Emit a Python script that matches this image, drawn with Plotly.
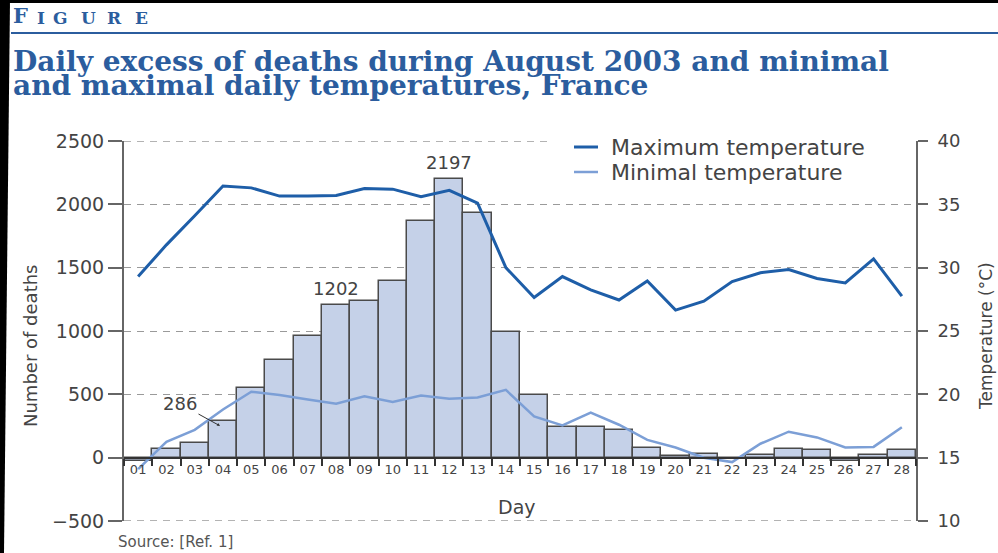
import plotly.graph_objects as go

# ---------------- data ----------------
days = ["01", "02", "03", "04", "05", "06", "07", "08", "09", "10", "11", "12", "13", "14",
        "15", "16", "17", "18", "19", "20", "21", "22", "23", "24", "25", "26", "27", "28"]
excess_deaths = [-25, 65, 115, 286, 550, 775, 960, 1202, 1235, 1395, 1865, 2197, 1935, 995,
                 495, 245, 245, 220, 80, 10, 30, -10, 25, 65, 60, -30, 25, 60]
t_max = [29.3, 31.8, 34.1, 36.45, 36.3, 35.65, 35.65, 35.7, 36.25, 36.2, 35.6, 36.1, 35.1, 30.0,
         27.65, 29.3, 28.25, 27.45, 28.95, 26.65, 27.35, 28.9, 29.6, 29.85, 29.15, 28.8, 30.7, 27.75]
t_min = [14.1, 16.25, 17.2, 18.8, 20.2, 19.95, 19.6, 19.25, 19.85, 19.4, 19.9, 19.65, 19.75, 20.35,
         18.25, 17.55, 18.55, 17.6, 16.4, 15.8, 15.0, 14.65, 16.1, 17.05, 16.6, 15.8, 15.85, 17.4]
series_names = ["Maximum temperature", "Minimal temperature"]
labelled_days = ["08", "12"]
arrow_day = "04"
left_ticks = [-500, 0, 500, 1000, 1500, 2000, 2500]
right_ticks = [10, 15, 20, 25, 30, 35, 40]

# ---------------- layout helpers (pixel -> paper) ----------------
W, H = 998, 553
L, R, T, B = 124, 916, 141, 521


def PX(x):
    return (x - L) / (R - L)


def PY(y):
    return (B - y) / (B - T)


BLUE_HDR = "#2b5d9e"
TXT = "#444444"
FONT = "DejaVu Sans"
COL_MAX, W_MAX = "#1e5ea8", 3
COL_MIN, W_MIN = "#7c9fd6", 2.5
GRID = "#9a9a9a"
GRID_DASH = "7px,6px"

fig = go.Figure()

fig.add_trace(go.Bar(
    x=days, y=excess_deaths, yaxis="y", xaxis="x",
    marker=dict(color="#c5d1e8", line=dict(color="#4a4a4a", width=1.5)),
    showlegend=False, hoverinfo="x+y",
))
fig.add_trace(go.Scatter(
    x=days, y=t_max, yaxis="y2", mode="lines", name=series_names[0],
    line=dict(color=COL_MAX, width=W_MAX), showlegend=False,
))
fig.add_trace(go.Scatter(
    x=days, y=t_min, yaxis="y2", mode="lines", name=series_names[1],
    line=dict(color=COL_MIN, width=W_MIN), showlegend=False,
))

annotations = []
# value labels (category index used as x position)
for d in labelled_days:
    i = days.index(d)
    annotations.append(dict(x=i, y=excess_deaths[i], xref="x", yref="y", text=str(excess_deaths[i]),
                            showarrow=False, yanchor="bottom", yshift=4,
                            font=dict(family=FONT, size=18, color=TXT)))
ia = days.index(arrow_day)
annotations.append(dict(x=ia, y=excess_deaths[ia] - 35, xref="x", yref="y", text=str(excess_deaths[ia]),
                        showarrow=True, arrowhead=2, arrowsize=0.6, arrowwidth=1, arrowcolor="#333",
                        ax=-40, ay=-22, xshift=-3,
                        font=dict(family=FONT, size=18, color=TXT)))

# legend (drawn by hand for exact spacing)
shapes = []
for (name, col, wd, yy) in [(series_names[0], COL_MAX, W_MAX, 147), (series_names[1], COL_MIN, W_MIN, 172)]:
    shapes.append(dict(type="line", xref="paper", yref="paper", x0=PX(574), x1=PX(598), y0=PY(yy), y1=PY(yy),
                       line=dict(color=col, width=wd)))
    annotations.append(dict(x=PX(609), y=PY(yy), xref="paper", yref="paper", text=name,
                            showarrow=False, xanchor="left", yanchor="middle",
                            font=dict(family=FONT, size=22, color=TXT)))

# header
header_letters = [("F", 21, 20.5), ("I", 17, 40.5), ("G", 17, 60.5), ("U", 17, 88.5), ("R", 17, 114.5), ("E", 17, 141.5)]
for ch, sz, cx in header_letters:
    annotations.append(dict(x=PX(cx), y=PY(30), xref="paper", yref="paper", text="<b>%s</b>" % ch,
                            showarrow=False, xanchor="center", yanchor="bottom",
                            font=dict(family="DejaVu Serif", size=sz, color=BLUE_HDR)))
annotations.append(dict(x=PX(11), y=PY(62), xref="paper", yref="paper",
                        text="<b>Daily excess of deaths during August 2003 and minimal</b>",
                        showarrow=False, xanchor="left", yanchor="middle",
                        font=dict(family="DejaVu Serif", size=28, color=BLUE_HDR)))
annotations.append(dict(x=PX(11), y=PY(85), xref="paper", yref="paper",
                        text="<b>and maximal daily temperatures, France</b>",
                        showarrow=False, xanchor="left", yanchor="middle",
                        font=dict(family="DejaVu Serif", size=28, color=BLUE_HDR)))
# axis titles
annotations.append(dict(x=PX(30), y=PY(346), xref="paper", yref="paper", text="Number of deaths",
                        textangle=-90, showarrow=False, xanchor="center", yanchor="middle",
                        font=dict(family=FONT, size=18, color=TXT)))
annotations.append(dict(x=PX(986), y=PY(336), xref="paper", yref="paper", text="Temperature (°C)",
                        textangle=-90, showarrow=False, xanchor="center", yanchor="middle",
                        font=dict(family=FONT, size=17, color=TXT)))
annotations.append(dict(x=PX(517), y=PY(507), xref="paper", yref="paper", text="Day",
                        showarrow=False, xanchor="center", yanchor="middle",
                        font=dict(family=FONT, size=19, color=TXT)))
annotations.append(dict(x=PX(116), y=PY(542), xref="paper", yref="paper", text="Source: [Ref. 1]",
                        showarrow=False, xanchor="left", yanchor="middle",
                        font=dict(family=FONT, size=15, color="#555")))

shapes += [
    # edge gridlines that plotly omits at the range ends
    dict(type="line", xref="paper", yref="y", x0=0, x1=PX(552), y0=left_ticks[-1], y1=left_ticks[-1],
         line=dict(color=GRID, width=1.3, dash=GRID_DASH), layer="below"),
    dict(type="line", xref="paper", yref="y", x0=0, x1=1, y0=left_ticks[0], y1=left_ticks[0],
         line=dict(color=GRID, width=1.3, dash=GRID_DASH), layer="below"),
    # header rule
    dict(type="line", xref="paper", yref="paper", x0=PX(11), x1=PX(998), y0=PY(33), y1=PY(33),
         line=dict(color=BLUE_HDR, width=2)),
    # black frame strips of the scanned figure
    dict(type="path", xref="paper", yref="paper",
         path="M %f %f L %f %f L %f %f L %f %f Z" % (PX(0), PY(0), PX(10), PY(0), PX(4), PY(553), PX(0), PY(553)),
         fillcolor="black", line=dict(width=0), layer="above"),
    dict(type="rect", xref="paper", yref="paper", x0=PX(0), x1=PX(998), y0=PY(3), y1=PY(0),
         fillcolor="black", line=dict(width=0), layer="above"),
]

fig.update_layout(
    width=W, height=H, autosize=False,
    margin=dict(l=L, r=W - R, t=T, b=H - B, pad=0),
    paper_bgcolor="white", plot_bgcolor="white",
    bargap=0, showlegend=False,
    font=dict(family=FONT, color=TXT),
    xaxis=dict(
        type="category", range=[-0.5, 27.5], anchor="free", position=500 / 3000,
        showline=True, linecolor="#333", linewidth=2,
        ticks="outside", tickson="boundaries", ticklen=7, tickwidth=1.5, tickcolor="#333",
        tickfont=dict(family=FONT, size=13, color=TXT), showgrid=False, zeroline=False,
    ),
    yaxis=dict(
        range=[left_ticks[0], left_ticks[-1]], tickvals=left_ticks, showline=True, linecolor="#666", linewidth=2,
        ticks="outside", ticklen=14, tickwidth=1.5, tickcolor="#666",
        tickfont=dict(family=FONT, size=19, color=TXT),
        showgrid=True, gridcolor=GRID, gridwidth=1.3, griddash=GRID_DASH, zeroline=False,
    ),
    yaxis2=dict(
        range=[right_ticks[0], right_ticks[-1]], tickvals=right_ticks, overlaying="y", side="right",
        showline=True, linecolor="#666", linewidth=2,
        ticks="outside", ticklen=10, tickwidth=1.5, tickcolor="#666", ticklabelstandoff=6,
        tickfont=dict(family=FONT, size=18, color=TXT), showgrid=False, zeroline=False,
    ),
    annotations=annotations,
    shapes=shapes,
)

fig.write_html("out.html", config={"displayModeBar": False},
               post_script="document.body.style.margin='0';document.body.style.overflow='hidden';")
